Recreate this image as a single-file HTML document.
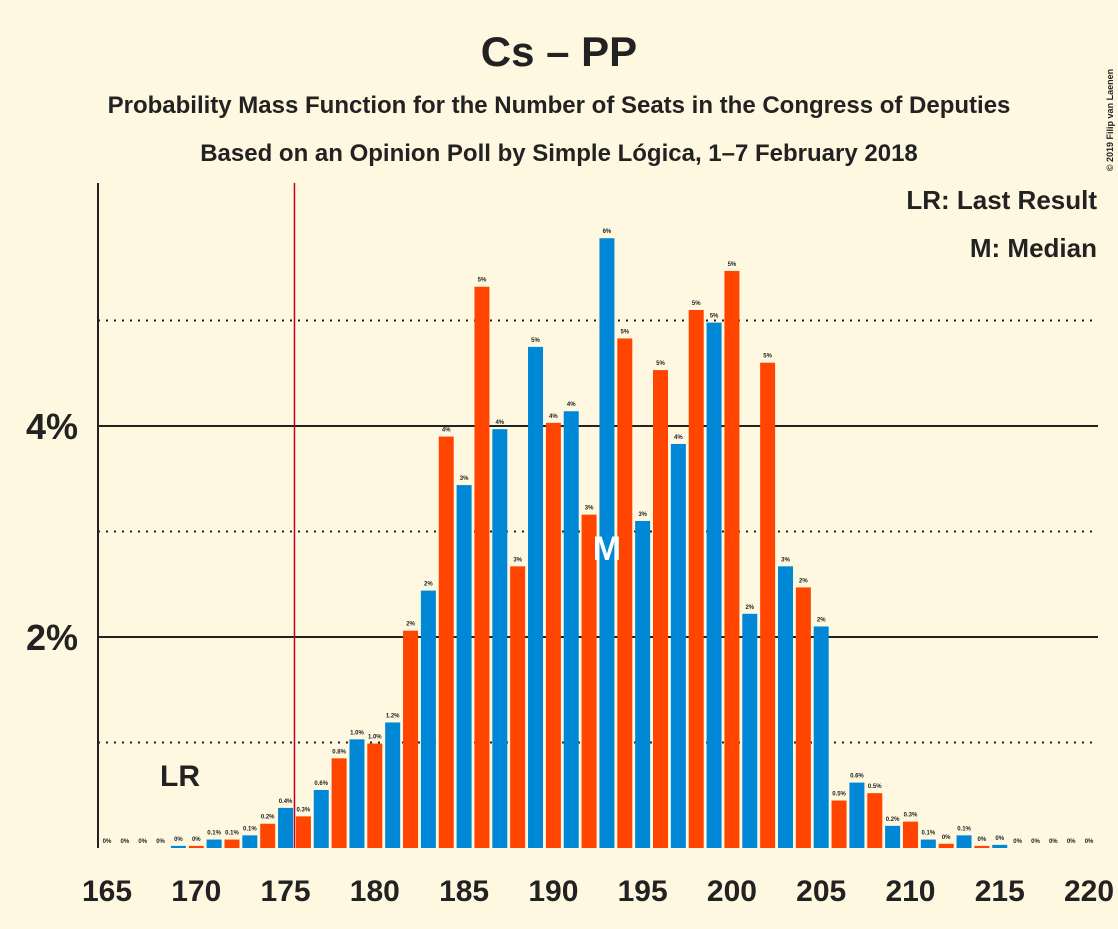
<!DOCTYPE html>
<html><head><meta charset="utf-8"><style>
body{margin:0;background:#fff8e1;}
svg text{font-family:"Liberation Sans",sans-serif;font-weight:bold;fill:#222;}
</style></head><body>
<svg id="chart" width="1118" height="924" viewBox="0 0 1118 924">
<rect width="1118" height="924" fill="#fff8e1"/>
<text x="559" y="66" text-anchor="middle" font-size="42">Cs – PP</text>
<text x="559" y="113" text-anchor="middle" font-size="24">Probability Mass Function for the Number of Seats in the Congress of Deputies</text>
<text x="559" y="161" text-anchor="middle" font-size="24">Based on an Opinion Poll by Simple Lógica, 1–7 February 2018</text>
<text x="1113" y="120" font-size="9" font-weight="normal" transform="rotate(-90 1113 120)" text-anchor="middle">© 2019 Filip van Laenen</text>
<text x="1097" y="209" text-anchor="end" font-size="26">LR: Last Result</text>
<text x="1097" y="257" text-anchor="end" font-size="26">M: Median</text>
<g id="grid"></g>
<g id="bars"></g>
<g id="axes"></g>
</svg>
<script>
const seats=[165,166,167,168,169,170,171,172,173,174,175,176,177,178,179,180,181,182,183,184,185,186,187,188,189,190,191,192,193,194,195,196,197,198,199,200,201,202,203,204,205,206,207,208,209,210,211,212,213,214,215,216,217,218,219,220];
const probs=[0,0,0,0,0.02,0.02,0.08,0.08,0.12,0.23,0.38,0.3,0.55,0.85,1.03,0.99,1.19,2.06,2.44,3.9,3.44,5.32,3.97,2.67,4.75,4.03,4.14,3.16,5.78,4.83,3.1,4.53,3.83,5.1,4.98,5.47,2.22,4.6,2.67,2.47,2.1,0.45,0.62,0.52,0.21,0.25,0.08,0.04,0.12,0.02,0.03,0,0,0,0,0];
const xTicks=[165,170,175,180,185,190,195,200,205,210,215,220];
const yTicks=[2,4];
const yDotted=[1,3,5];
const lastResult=175.5;
const median=193;
const NS="http://www.w3.org/2000/svg";
const X=s=>107+(s-165)*17.855;
const Y=v=>848-v*105.5;
function el(tag,attrs,parent,txt){const e=document.createElementNS(NS,tag);for(const k in attrs)e.setAttribute(k,attrs[k]);if(txt!==undefined)e.textContent=txt;parent.appendChild(e);return e;}
const grid=document.getElementById('grid'),bars=document.getElementById('bars'),axes=document.getElementById('axes');
yDotted.forEach(v=>{const l=el('line',{x1:98,x2:1098,y1:Y(v),y2:Y(v),stroke:'#222','stroke-width':2,'stroke-dasharray':'2,6'},grid);

});
yTicks.forEach(v=>{const l=el('line',{x1:98,x2:1098,y1:Y(v),y2:Y(v),stroke:'#222','stroke-width':2},grid);


const t=el('text',{x:78,y:Y(v)+13,'text-anchor':'end','font-size':36},axes,v+'%');

});
function fmt(v){if(v<0.05)return '0%';if(v<1.5)return v.toFixed(1)+'%';return Math.round(v)+'%';}
seats.forEach((s,i)=>{const v=probs[i];const cx=X(s);
if(v>0){const r=el('rect',{x:cx-7.5,y:Y(v),width:15,height:848-Y(v),fill:(s%2?'#0088d6':'#ff4500')},bars);

}
const t=el('text',{x:cx,y:Y(v)-5,'text-anchor':'middle','font-size':6},bars,fmt(v));

});
const mi=seats.indexOf(median);
const m=el('text',{x:X(median),y:560,'text-anchor':'middle','font-size':34,style:'fill:#fff'},bars,'M');


const lr=el('line',{x1:X(lastResult),x2:X(lastResult),y1:183,y2:848,stroke:'#c00020','stroke-width':1.5},bars);


const lrt=el('text',{x:180,y:786,'text-anchor':'middle','font-size':30},bars,'LR');


const ya=el('line',{x1:98,x2:98,y1:183,y2:848,stroke:'#222','stroke-width':2},axes);


xTicks.forEach(s=>{const t=el('text',{x:X(s),y:901,'text-anchor':'middle','font-size':30},axes,s);

});
</script>
</body></html>
